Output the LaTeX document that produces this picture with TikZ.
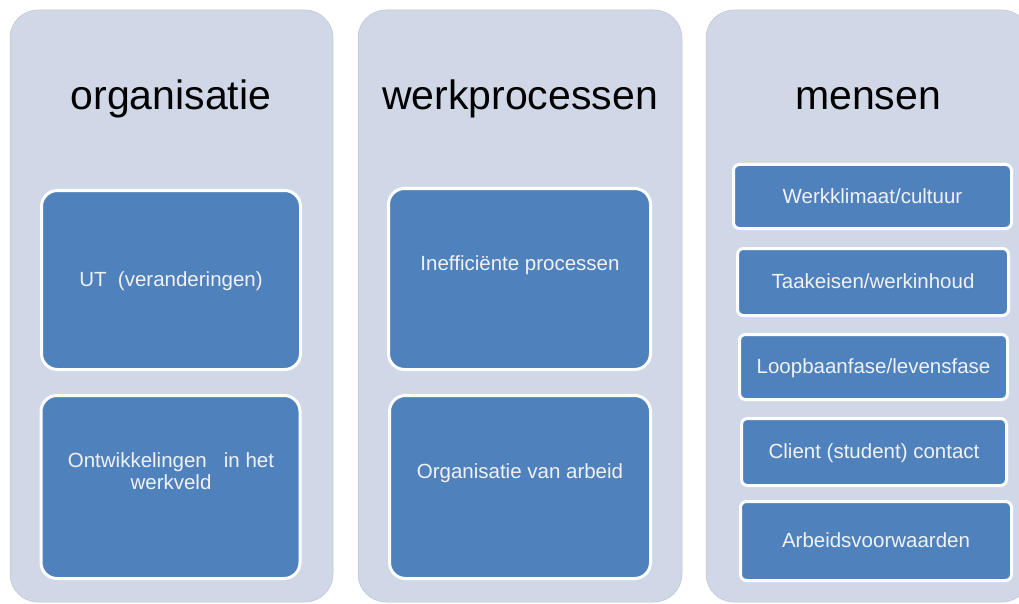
\documentclass[tikz,border=0pt]{standalone}
\usepackage{fontspec}
\setmainfont{Liberation Sans}
\definecolor{bgcol}{HTML}{D0D8E8}
\definecolor{bgedge}{HTML}{BCC4D2}
\definecolor{boxcol}{HTML}{4F81BD}
\definecolor{txtcol}{HTML}{F0F2F6}
\begin{document}
\begin{tikzpicture}[x=1pt,y=-1pt,
  panel/.style={fill=bgcol, draw=bgedge, line width=0.5pt, rounded corners=28pt},
  bigbox/.style={fill=boxcol, draw=white, line width=3pt, rounded corners=16pt,
    minimum width=259pt, minimum height=179pt, inner sep=0pt},
  smallbox/.style={fill=boxcol, draw=white, line width=3pt, rounded corners=6pt,
    inner sep=0pt, text=txtcol, font=\fontsize{20.5}{23}\selectfont,
    text height=17pt, text depth=4pt},
  title/.style={font=\fontsize{41}{48}\selectfont, text=black, anchor=base, inner sep=0pt},
  lbl/.style={text=txtcol, font=\fontsize{20.5}{22}\selectfont, align=center, anchor=base, inner sep=0pt}]
\useasboundingbox (0,0) rectangle (1019,604);
\clip (0,0) rectangle (1019,604);
% panels
\path[panel] (10,10) rectangle (333,602);
\path[panel] (358,10) rectangle (682,602);
\path[panel] (706,10) rectangle (1030,602);
% titles
\node[title] (t1) at (171,110) {organisatie};
\node[title] (t2) at (520,110) {werkprocessen};
\node[title] (t3) at (868,110) {mensen};
% column 1
\node[bigbox] (a1) at (171,280) {};
\node[lbl] (a1t) at (171,286) {UT\ \ (veranderingen)};
\node[bigbox, minimum height=183pt] (a2) at (170.5,487) {};
\node[lbl] (a2t) at (171,489) {Ontwikkelingen\ \ \ in het\\werkveld};
% column 2
\node[bigbox, minimum width=262pt, minimum height=181pt] (b1) at (519.5,279) {};
\node[lbl] (b1t) at (520,270) {Inefficiënte processen};
\node[bigbox, minimum width=261pt, minimum height=183pt] (b2) at (520,487) {};
\node[lbl] (b2t) at (520,478) {Organisatie\ van\ arbeid};
% column 3
\node[smallbox, minimum width=278pt, minimum height=64pt] (c1) at (872.5,196.5) {Werkklimaat/cultuur};
\node[smallbox, minimum width=271pt, minimum height=67pt] (c2) at (873,282) {Taakeisen/werkinhoud};
\node[smallbox, minimum width=268pt, minimum height=65pt] (c3) at (873.5,367) {Loopbaanfase/levensfase};
\node[smallbox, minimum width=265pt, minimum height=67pt] (c4) at (874,452) {Client\ (student)\ contact};
\node[smallbox, minimum width=271pt, minimum height=79pt] (c5) at (876,541) {Arbeidsvoorwaarden};
\end{tikzpicture}
\end{document}
